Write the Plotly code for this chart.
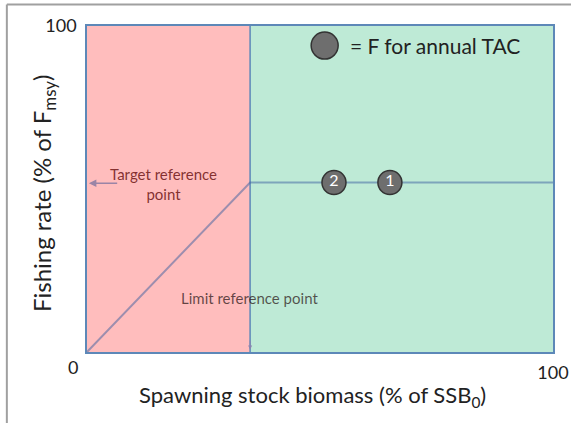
import plotly.graph_objects as go

# harvest control rule (% of SSB0 vs % of Fmsy)
rule_x = [0, 35, 100]
rule_y = [0, 52, 52]

# zones: depleted (red) and healthy (green)
zone_edges = [0, 35, 100]
zone_colors = ['#FFBDBD', '#BEEAD6']

# F for annual TAC points
tac_x = [65, 53]
tac_y = [52, 52]
tac_labels = ['1', '2']

FONT = 'Lato, "Open Sans", sans-serif'
BORDER = '#5D88B8'
LINE = 'rgba(60,95,160,0.5)'

fig = go.Figure()

for i, col in enumerate(zone_colors):
    fig.add_shape(type='rect', xref='x', yref='y',
                  x0=zone_edges[i], x1=zone_edges[i + 1], y0=0, y1=100,
                  fillcolor=col, line_width=0, layer='below')

fig.add_shape(type='line', xref='x', yref='y', x0=zone_edges[1], x1=zone_edges[1],
              y0=0, y1=100, line=dict(color=BORDER, width=1.5), layer='below')

# outer frame of the picture (top and left edges only are visible)
fig.add_shape(type='line', xref='paper', yref='paper', x0=-0.172, x1=1.1,
              y0=1.066, y1=1.066, line=dict(color='#a0a0a0', width=2))
fig.add_shape(type='line', xref='paper', yref='paper', x0=-0.172, x1=-0.172,
              y0=-0.3, y1=1.066, line=dict(color='#a0a0a0', width=2))

fig.add_trace(go.Scatter(x=rule_x, y=rule_y, mode='lines',
                         line=dict(color=LINE, width=2), hoverinfo='skip'))

fig.add_trace(go.Scatter(x=tac_x, y=tac_y, mode='markers+text', text=tac_labels,
                         textposition='middle center',
                         textfont=dict(color='white', size=16, family=FONT),
                         marker=dict(size=24, color='#6E6E6E',
                                     line=dict(color='#333333', width=1.5))))

# legend symbol
fig.add_trace(go.Scatter(x=[51], y=[94], mode='markers',
                         marker=dict(size=27, color='#6E6E6E',
                                     line=dict(color='#333333', width=1.5))))

fig.add_annotation(x=56, y=94, xref='x', yref='y', text='= F for annual TAC',
                   showarrow=False, xanchor='left',
                   font=dict(size=21, color='#222222', family=FONT))

# target reference point
fig.add_annotation(x=16.5, y=51.5, xref='x', yref='y',
                   text='Target reference<br>point', showarrow=False,
                   font=dict(size=15, color='rgba(100,10,10,0.8)', family=FONT))
fig.add_annotation(x=0.4, y=51.8, ax=6.8, ay=51.8, xref='x', yref='y',
                   axref='x', ayref='y', text='', showarrow=True,
                   arrowhead=2, arrowsize=1, arrowwidth=1.5, arrowcolor='#9A84A6')

# limit reference point
fig.add_annotation(x=34.8, y=16.6, xref='x', yref='y',
                   text='Limit reference point', showarrow=False,
                   font=dict(size=15, color='rgba(40,20,20,0.72)', family=FONT))
fig.add_annotation(x=35, y=0.8, ax=35, ay=4, xref='x', yref='y',
                   axref='x', ayref='y', text='', showarrow=True,
                   arrowhead=2, arrowsize=0.8, arrowwidth=1, arrowcolor='#8A84B0')

# axis labels
fig.add_annotation(x=0, y=0, xref='x', yref='y', text='0', showarrow=False,
                   xshift=-14, yshift=-15,
                   font=dict(size=18, color='#222222', family=FONT))
fig.add_annotation(x=-0.092, y=0.485, xref='paper', yref='paper',
                   xanchor='center', yanchor='middle',
                   text='Fishing rate (% of F<sub>msy</sub>)', textangle=-90,
                   showarrow=False, font=dict(size=24, color='#222222', family=FONT))
fig.add_annotation(x=0.483, y=-0.135, xref='paper', yref='paper',
                   xanchor='center', yanchor='middle',
                   text='Spawning stock biomass (% of SSB<sub>0</sub>)',
                   showarrow=False, font=dict(size=22, color='#222222', family=FONT))

fig.update_xaxes(range=[0, 100], tickvals=[100], ticktext=['100'], automargin=False,
                 showgrid=False, zeroline=False, ticks='', ticklabelstandoff=4,
                 showline=True, mirror=True, linecolor=BORDER, linewidth=1.5,
                 tickfont=dict(size=18, color='#222222', family=FONT))
fig.update_yaxes(range=[0, 100], tickvals=[100], ticktext=['100'], automargin=False,
                 showgrid=False, zeroline=False, ticks='', ticklabelstandoff=5,
                 showline=True, mirror=True, linecolor=BORDER, linewidth=1.5,
                 tickfont=dict(size=18, color='#222222', family=FONT))

fig.update_layout(width=571, height=423, showlegend=False,
                  margin=dict(l=87, r=18, t=26, b=71),
                  paper_bgcolor='white', plot_bgcolor='white',
                  font=dict(family=FONT))

# drop the default page margin so the figure fills the window
fig.write_html("out.html", config={'displayModeBar': False},
               post_script="document.body.style.margin='0';"
                           "document.body.style.overflow='hidden';")
